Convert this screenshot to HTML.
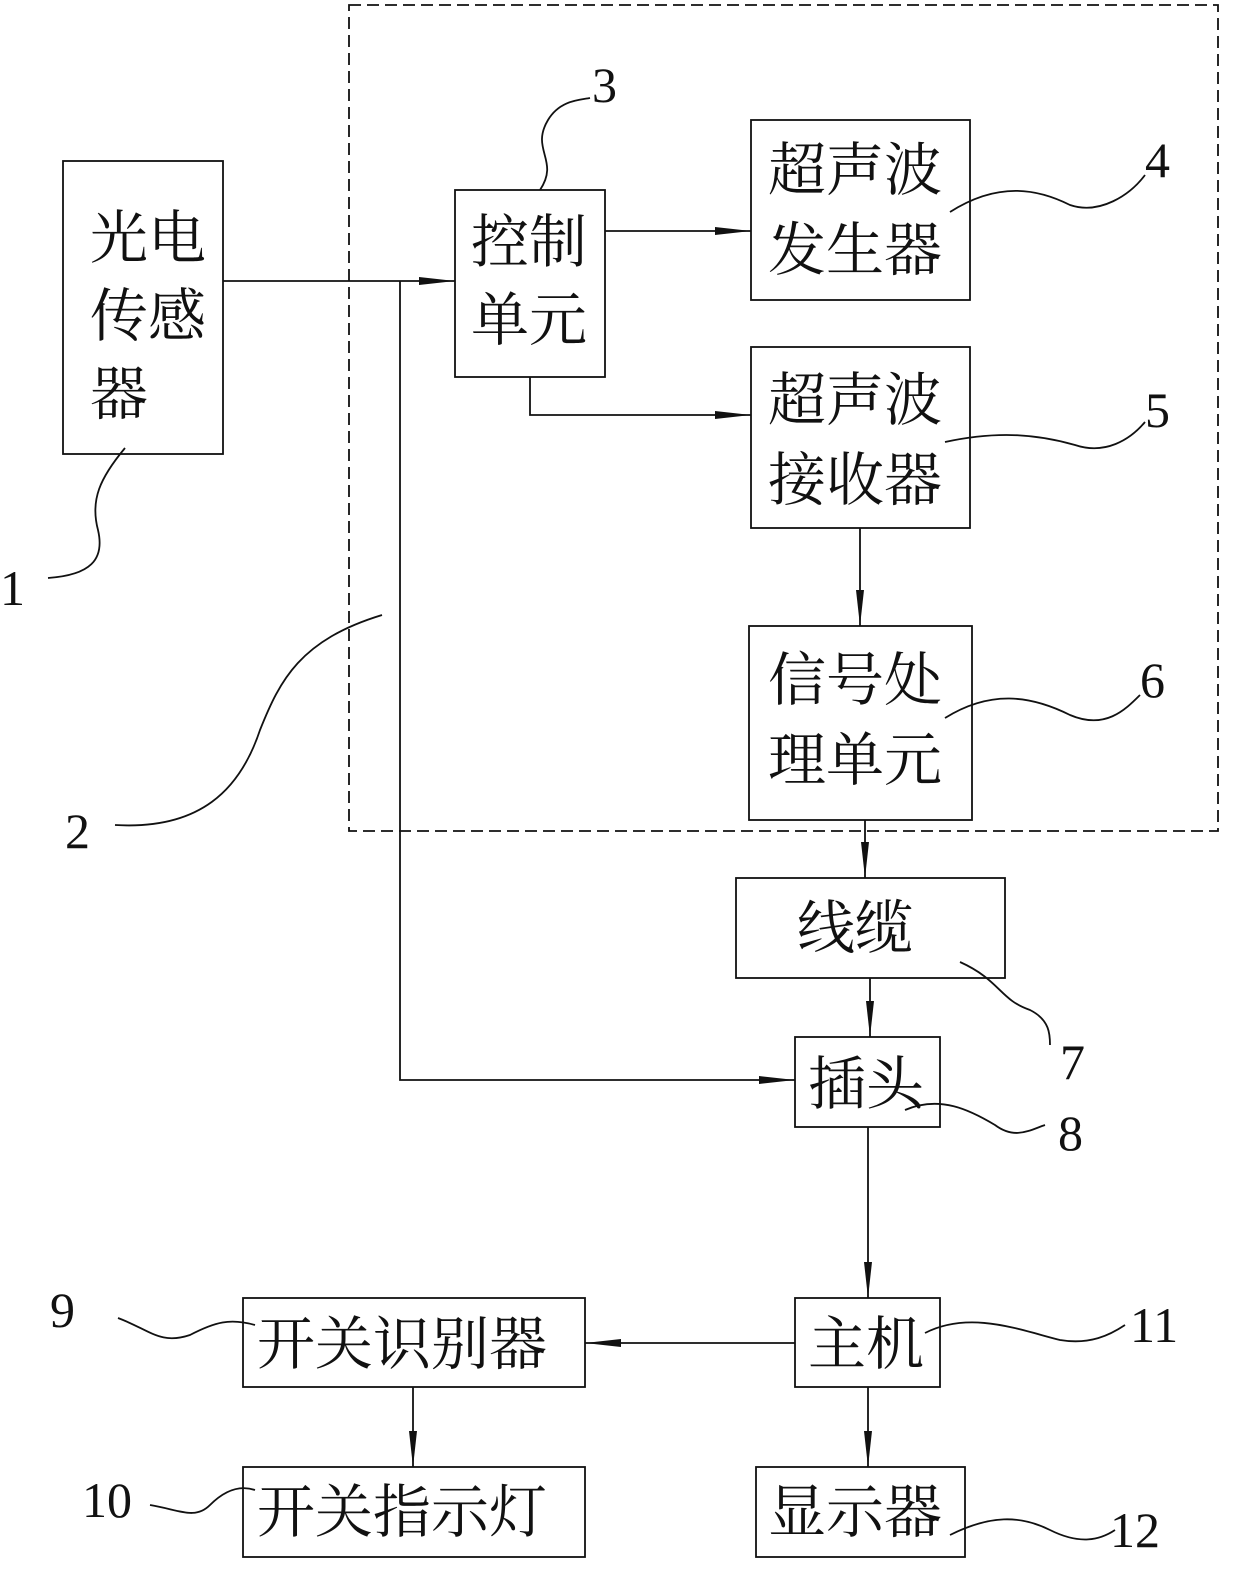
<!DOCTYPE html>
<html><head><meta charset="utf-8"><style>
html,body{margin:0;padding:0;background:#fff}
svg text{font-family:"Noto Serif CJK SC","Liberation Serif",serif;fill:#111}
.n{font-family:"Liberation Serif",serif;font-size:50px}
</style></head><body>
<svg width="1240" height="1584" viewBox="0 0 1240 1584" xmlns="http://www.w3.org/2000/svg">
<defs><marker id="a" markerWidth="36" markerHeight="10" refX="36" refY="5" orient="auto" markerUnits="userSpaceOnUse"><path d="M0,1 L36,5 L0,9 Z" fill="#111"/></marker></defs>
<g fill="none" stroke="#111" stroke-width="1.8">
<rect x="349" y="5" width="869" height="826" stroke-dasharray="12,6"/>
<rect x="63" y="161" width="160" height="293"/>
<rect x="455" y="190" width="150" height="187"/>
<rect x="751" y="120" width="219" height="180"/>
<rect x="751" y="347" width="219" height="181"/>
<rect x="749" y="626" width="223" height="194"/>
<rect x="736" y="878" width="269" height="100"/>
<rect x="795" y="1037" width="145" height="90"/>
<rect x="795" y="1298" width="145" height="89"/>
<rect x="243" y="1298" width="342" height="89"/>
<rect x="243" y="1467" width="342" height="90"/>
<rect x="756" y="1467" width="209" height="90"/>
<path d="M223,281 H455" marker-end="url(#a)"/>
<path d="M400,281 V1080 H795" marker-end="url(#a)"/>
<path d="M605,231 H751" marker-end="url(#a)"/>
<path d="M530,377 V415 H751" marker-end="url(#a)"/>
<path d="M860,528 V626" marker-end="url(#a)"/>
<path d="M865,820 V878" marker-end="url(#a)"/>
<path d="M870,978 V1037" marker-end="url(#a)"/>
<path d="M868,1127 V1298" marker-end="url(#a)"/>
<path d="M795,1343 H585" marker-end="url(#a)"/>
<path d="M413,1387 V1467" marker-end="url(#a)"/>
<path d="M868,1387 V1467" marker-end="url(#a)"/>
<path d="M125,448 C100,478 90,500 98,530 C105,560 90,575 48,578"/>
<path d="M382,615 C300,640 280,680 260,730 C240,790 200,830 115,825"/>
<path d="M540,190 C560,160 530,150 548,120 C560,100 580,100 590,98"/>
<path d="M950,212 C1000,180 1040,190 1070,205 C1100,215 1130,195 1145,175"/>
<path d="M945,442 C1000,430 1040,435 1075,445 C1105,455 1130,440 1145,422"/>
<path d="M945,718 C990,690 1030,695 1070,715 C1105,730 1125,710 1140,695"/>
<path d="M960,962 C1000,980 1000,1000 1030,1010 C1050,1020 1050,1035 1050,1045"/>
<path d="M905,1110 C940,1095 970,1110 995,1125 C1015,1140 1030,1130 1045,1125"/>
<path d="M118,1318 C150,1330 160,1345 190,1335 C215,1322 230,1318 255,1325"/>
<path d="M150,1505 C180,1510 195,1520 210,1505 C225,1490 240,1485 255,1490"/>
<path d="M925,1333 C970,1310 1020,1330 1060,1340 C1090,1345 1110,1335 1125,1325"/>
<path d="M950,1535 C990,1515 1020,1515 1050,1530 C1080,1545 1100,1540 1115,1530"/>
</g>
<g font-size="58">
<text x="90" y="258">光电</text>
<text x="90" y="336">传感</text>
<text x="90" y="414">器</text>
<text x="471" y="262">控制</text>
<text x="471" y="340">单元</text>
<text x="768" y="190">超声波</text>
<text x="768" y="270">发生器</text>
<text x="768" y="420">超声波</text>
<text x="768" y="500">接收器</text>
<text x="768" y="700">信号处</text>
<text x="768" y="780">理单元</text>
<text x="797" y="948">线缆</text>
<text x="808" y="1104">插头</text>
<text x="808" y="1364">主机</text>
<text x="257" y="1364">开关识别器</text>
<text x="257" y="1532">开关指示灯</text>
<text x="768" y="1532">显示器</text>
</g>
<text class="n" x="0" y="605">1</text>
<text class="n" x="65" y="848">2</text>
<text class="n" x="592" y="102">3</text>
<text class="n" x="1145" y="177">4</text>
<text class="n" x="1145" y="427">5</text>
<text class="n" x="1140" y="697">6</text>
<text class="n" x="1060" y="1079">7</text>
<text class="n" x="1058" y="1150">8</text>
<text class="n" x="50" y="1327">9</text>
<text class="n" x="82" y="1517">10</text>
<text class="n" x="1130" y="1342">11</text>
<text class="n" x="1110" y="1547">12</text>
</svg>
</body></html>
